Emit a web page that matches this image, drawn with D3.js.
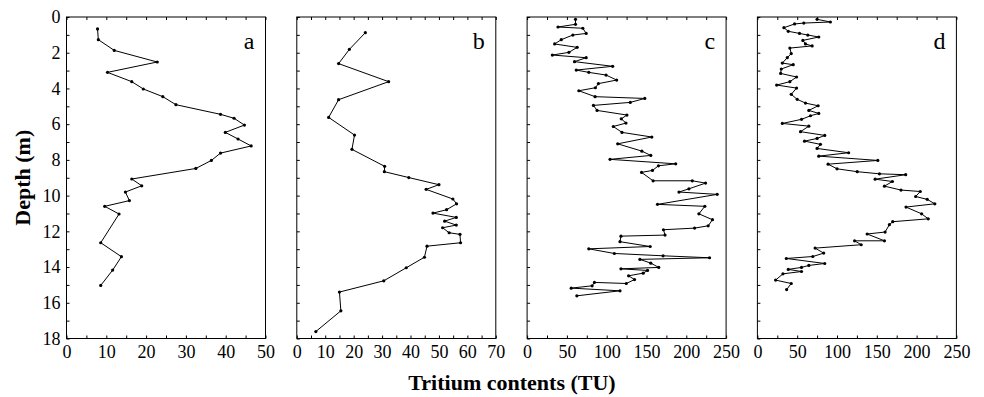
<!DOCTYPE html>
<html>
<head>
<meta charset="utf-8">
<script src="https://cdn.jsdelivr.net/npm/d3@7"></script>
<style>
  body { margin: 0; background: #fff; }
</style>
</head>
<body>
<script>
// depth (m) and tritium (TU) read from each profile
const depthA = [0.67,1.27,1.87,2.52,3.1,3.62,4.03,4.46,4.91,5.45,5.67,6.05,6.46,6.83,7.22,7.62,8.03,8.48,9.07,9.45,9.8,10.28,10.6,11.03,12.64,13.42,14.17,15.03];
const tuA = [7.8,8.0,12.0,22.8,10.3,16.4,19.3,24.2,27.5,38.7,42.1,44.7,39.9,43.1,46.4,38.7,36.4,32.5,16.4,18.9,14.8,15.8,9.6,13.2,8.6,13.8,11.6,8.6];

const depthB = [0.88,1.81,2.61,3.62,4.63,5.62,6.61,7.41,8.36,8.66,8.99,9.39,9.65,10.19,10.46,10.79,10.98,11.22,11.43,11.65,11.8,12.08,12.17,12.64,12.83,13.45,14.04,14.77,15.4,16.45,17.61];
const tuB = [24.1,18.5,14.7,32.3,14.7,11.2,20.3,19.4,30.9,30.8,39.4,50.0,45.5,54.9,56.2,52.7,47.9,56.1,52.0,56.1,51.3,53.6,57.4,57.6,45.8,44.9,38.5,30.6,15.0,15.5,6.7];

const depthC = [0.13,0.41,0.56,0.63,0.92,1.01,1.27,1.51,1.70,1.98,2.13,2.28,2.50,2.76,2.97,3.10,3.25,3.53,3.73,3.96,4.13,4.46,4.56,4.78,4.95,5.23,5.49,5.70,5.94,6.13,6.46,6.72,7.10,7.51,7.75,7.97,8.22,8.33,8.59,8.70,9.17,9.17,9.30,9.62,9.80,9.93,10.49,10.60,11.02,11.35,11.69,11.82,11.91,12.21,12.27,12.58,12.85,12.98,13.24,13.37,13.48,13.57,13.78,14.02,14.10,14.19,14.34,14.49,14.70,14.92,14.86,15.05,15.18,15.33,15.61];
const tuC = [60.8,60.8,38.8,70.0,74.2,57.5,42.9,34.6,62.9,52.5,31.7,74.2,59.6,107.5,61.7,77.5,99.2,112.5,89.6,85.8,65.0,85.4,147.9,129.6,83.3,87.9,125.4,118.3,124.2,108.3,119.2,156.7,113.8,144.2,155.4,104.2,186.7,165.0,157.5,143.8,158.3,207.5,224.2,203.3,190.8,238.8,163.8,223.3,215.8,232.9,227.5,210.4,171.3,173.3,117.9,116.7,154.6,77.5,109.6,170.8,229.2,141.7,155.4,165.4,117.9,151.3,145.8,127.5,135.0,124.6,84.6,81.7,55.4,116.7,62.5];

const depthD = [0.13,0.28,0.34,0.39,0.60,0.80,0.92,1.01,1.12,1.31,1.51,1.62,1.74,2.05,2.28,2.58,2.67,2.91,3.16,3.36,3.62,3.81,3.98,4.33,4.61,4.82,4.97,5.23,5.40,5.53,5.73,5.96,6.11,6.42,6.63,6.80,6.95,7.13,7.36,7.60,7.79,8.03,8.24,8.50,8.66,8.78,8.83,9.08,9.21,9.47,9.69,9.77,10.05,10.21,10.46,10.64,11.02,11.30,11.46,11.63,12.04,12.15,12.53,12.53,12.75,12.94,13.22,13.41,13.52,13.80,13.91,14.02,14.13,14.25,14.38,14.73,14.92,15.26];
const tuD = [75.0,91.7,58.3,46.7,33.3,38.8,52.9,63.3,77.1,57.1,60.4,68.8,40.8,42.5,37.5,31.3,45.0,30.0,29.2,49.2,40.8,24.2,49.2,42.5,50.0,60.4,76.3,64.6,77.1,66.7,55.4,31.3,64.6,54.2,84.6,75.0,59.2,79.2,75.0,114.6,77.1,151.3,88.8,100.0,125.4,153.3,186.3,147.9,169.6,159.6,180.4,204.6,198.8,213.3,222.9,186.7,206.3,214.6,170.0,165.8,160.4,137.9,159.6,122.1,130.4,72.5,83.3,69.6,36.3,84.6,64.6,55.4,38.8,55.4,32.1,22.9,42.5,36.7];

const panelLabels = ["a", "b", "c", "d"];
const xMax = [50, 70, 250, 250];
const xMinorStep = [5, 5, 25, 25];
const xMajorStep = [10, 10, 50, 50];
const depthTicks = d3.range(0, 19, 1);

const panels = [
  {depth: depthA, tu: tuA},
  {depth: depthB, tu: tuB},
  {depth: depthC, tu: tuC},
  {depth: depthD, tu: tuD}
];

const serif = '"Liberation Serif", "Times New Roman", Times, serif';
const W = 984, H = 397;
const margin = {left: 66.5, top: 17};
const pw = 199, gap = 31.3, ph = 321.5;

const svg = d3.select("body")
  .append("svg")
  .attr("width", W)
  .attr("height", H);

const y = d3.scaleLinear().domain([0, 18]).range([0, ph]);

panels.forEach((p, i) => {
  const g = svg.append("g")
    .attr("transform", `translate(${margin.left + i * (pw + gap)},${margin.top})`);

  const x = d3.scaleLinear().domain([0, xMax[i]]).range([0, pw]);
  const xt = d3.range(0, xMax[i] + 0.01, xMinorStep[i]);

  // bottom axis, ticks inward
  g.append("g")
    .attr("transform", `translate(0,${ph})`)
    .call(d3.axisBottom(x).tickValues(xt).tickSizeInner(-3).tickSizeOuter(0).tickPadding(7)
      .tickFormat(d => d % xMajorStep[i] === 0 ? d : ""));

  // top axis, ticks only
  g.append("g")
    .call(d3.axisTop(x).tickValues(xt).tickSizeInner(-3).tickSizeOuter(0).tickFormat(""));

  // left axis
  g.append("g")
    .call(d3.axisLeft(y).tickValues(depthTicks).tickSizeInner(-3).tickSizeOuter(0).tickPadding(6)
      .tickFormat(d => i === 0 && d % 2 === 0 ? d : ""));

  g.selectAll(".domain").remove();
  g.selectAll(".tick line").attr("stroke", "#000");
  g.selectAll(".tick text")
    .attr("fill", "#000")
    .style("font-family", serif)
    .style("font-size", "18px");

  g.append("rect")
    .attr("width", pw)
    .attr("height", ph)
    .attr("fill", "none")
    .attr("stroke", "#000")
    .attr("stroke-width", 1);

  const pts = p.depth.map((d, j) => [p.tu[j], d]);

  g.append("path")
    .datum(pts)
    .attr("fill", "none")
    .attr("stroke", "#000")
    .attr("stroke-width", 1)
    .attr("d", d3.line().x(d => x(d[0])).y(d => y(d[1])));

  g.selectAll("circle")
    .data(pts)
    .enter()
    .append("circle")
    .attr("cx", d => x(d[0]))
    .attr("cy", d => y(d[1]))
    .attr("r", 1.6)
    .attr("fill", "#000");

  g.append("text")
    .attr("x", pw - 11)
    .attr("y", 32)
    .attr("text-anchor", "end")
    .style("font-family", serif)
    .style("font-size", "24px")
    .text(panelLabels[i]);
});

svg.append("text")
  .attr("transform", `translate(30,${margin.top + ph / 2}) rotate(-90)`)
  .attr("text-anchor", "middle")
  .style("font-family", serif)
  .style("font-size", "22px")
  .style("font-weight", "bold")
  .text("Depth (m)");

svg.append("text")
  .attr("x", 512)
  .attr("y", 390)
  .attr("text-anchor", "middle")
  .style("font-family", serif)
  .style("font-size", "22px")
  .style("font-weight", "bold")
  .text("Tritium contents (TU)");
</script>
</body>
</html>
